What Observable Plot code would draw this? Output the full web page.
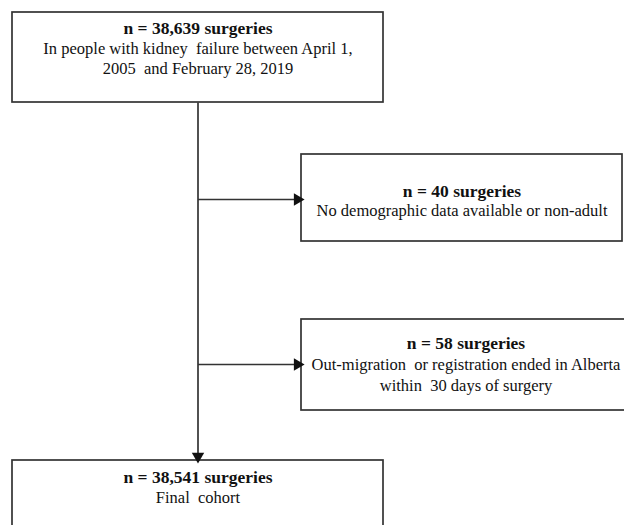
<!DOCTYPE html>
<html>
<head>
<meta charset="utf-8">
<script src="https://cdn.jsdelivr.net/npm/d3@7"></script>
<script src="https://cdn.jsdelivr.net/npm/@observablehq/plot@0.6"></script>
<style>
  html, body { margin: 0; padding: 0; background: #fff; overflow: hidden; }
  svg text { white-space: pre; }
</style>
</head>
<body>
<div id="chart"></div>
<script>
// ---- data ----
const boxIds = ["start", "excl1", "excl2", "final"];
const counts = ["38,639", "40", "58", "38,541"];
const descriptions = [
  ["In people with kidney  failure between April 1,", "2005  and February 28, 2019"],
  ["No demographic data available or non-adult"],
  ["Out-migration  or registration ended in Alberta", "within  30 days of surgery"],
  ["Final  cohort"]
];

// ---- layout (diagram geometry, separate from data) ----
const layout = {
  start: {x1: 12, x2: 383, y1: 12, y2: 102, firstLine: 28, lineGap: 20},
  excl1: {x1: 301, x2: 622, y1: 154, y2: 241, firstLine: 191, lineGap: 19},
  excl2: {x1: 301, x2: 630, y1: 319, y2: 410, firstLine: 343, lineGap: 21},
  final: {x1: 12, x2: 383, y1: 460, y2: 560, firstLine: 477, lineGap: 20}
};
const trunkX = (layout.start.x1 + layout.start.x2) / 2;
const arrows = [
  {x1: trunkX, y1: layout.start.y2, x2: trunkX, y2: layout.final.y1, dir: "down"},
  {x1: trunkX, y1: 199, x2: layout.excl1.x1, y2: 199, dir: "right"},
  {x1: trunkX, y1: 364, x2: layout.excl2.x1, y2: 364, dir: "right"}
];

const boxes = boxIds.map((id, i) => ({id, ...layout[id]}));
const textRows = [];
boxIds.forEach((id, i) => {
  const L = layout[id];
  const cx = (L.x1 + Math.min(L.x2, 630)) / 2;
  textRows.push({x: cx, y: L.firstLine, text: `n = ${counts[i]} surgeries`, bold: true});
  descriptions[i].forEach((t, j) => {
    textRows.push({x: cx, y: L.firstLine + L.lineGap * (j + 1), text: t, bold: false});
  });
});
const headLen = 9;
const heads = arrows.map(a => ({
  x: a.dir === "right" ? a.x2 - headLen * 0.45 : a.x2,
  y: a.dir === "down" ? a.y2 - headLen * 0.45 : a.y2,
  rotate: a.dir === "right" ? 90 : 180
}));
const shafts = arrows.map(a => ({
  x1: a.x1, y1: a.y1,
  x2: a.dir === "right" ? a.x2 - headLen * 0.8 : a.x2,
  y2: a.dir === "down" ? a.y2 - headLen * 0.8 : a.y2
}));

const ink = "#333";
const font = "'Liberation Serif', 'Times New Roman', serif";

const chart = Plot.plot({
  width: 624,
  height: 525,
  margin: 0,
  x: {domain: [0, 624], range: [0, 624], axis: null},
  y: {domain: [0, 525], range: [0, 525], axis: null},
  style: {fontFamily: font, background: "#fff"},
  marks: [
    Plot.rect(boxes, {x1: "x1", x2: "x2", y1: "y1", y2: "y2", fill: "#fff", stroke: ink, strokeWidth: 1.7, clip: true}),
    Plot.link(shafts, {x1: "x1", y1: "y1", x2: "x2", y2: "y2", stroke: ink, strokeWidth: 1.7}),
    Plot.dot(heads, {x: "x", y: "y", symbol: "triangle", r: 4.6, rotate: "rotate", fill: "#111", stroke: "none"}),
    Plot.text(textRows.filter(d => d.bold), {x: "x", y: "y", text: "text", fontWeight: "bold", fontSize: 17.5, fill: "#111", fontFamily: font}),
    Plot.text(textRows.filter(d => !d.bold), {x: "x", y: "y", text: "text", fontSize: 16.5, fill: "#111", fontFamily: font})
  ]
});
document.getElementById("chart").appendChild(chart);
</script>
</body>
</html>
